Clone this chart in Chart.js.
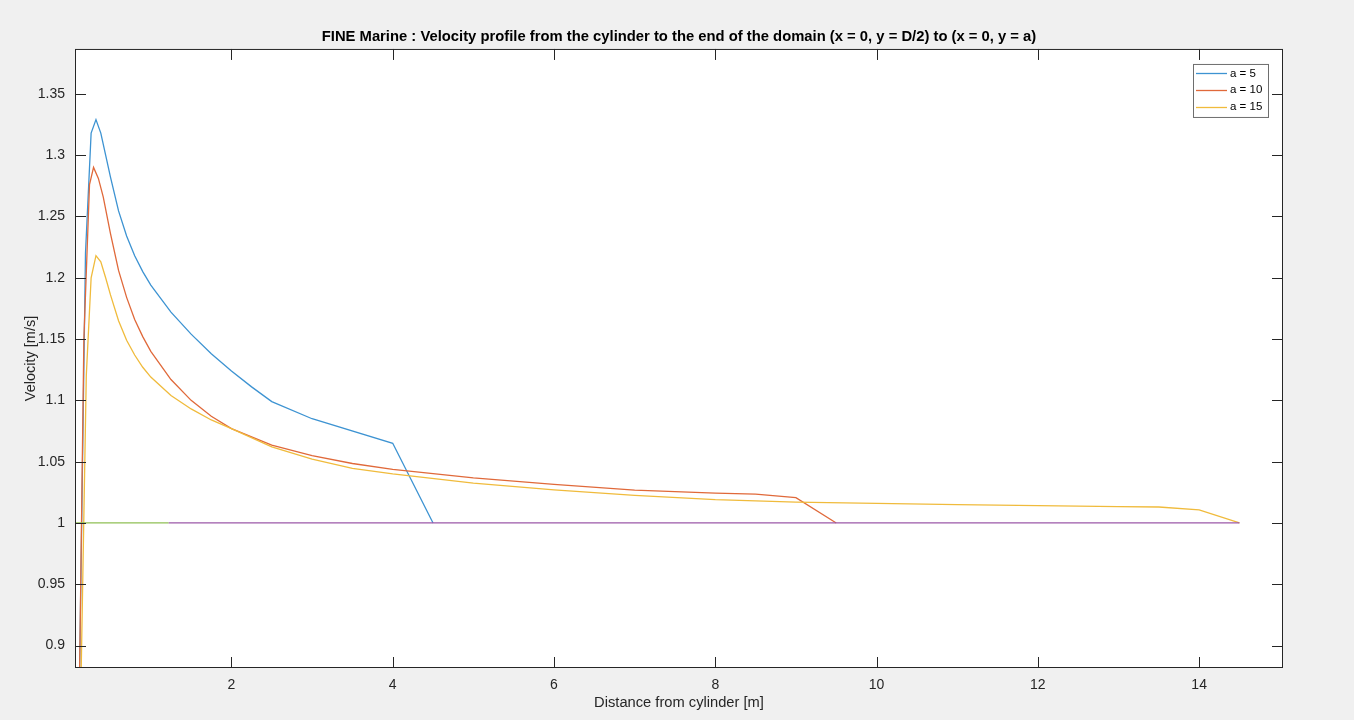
<!DOCTYPE html>
<html>
<head>
<meta charset="utf-8">
<title>FINE Marine velocity profile</title>
<script src="https://cdn.jsdelivr.net/npm/chart.js@4.4.0/dist/chart.umd.min.js"></script>
<style>
  html, body { margin: 0; padding: 0; background: #f0f0f0; }
  #wrap { width: 1354px; height: 720px; }
</style>
</head>
<body>
<div id="wrap"><canvas id="chart" width="1354" height="720"></canvas></div>
<script>
// distance from cylinder [m] and velocity [m/s]
const a5_x = [0.1, 0.19, 0.26, 0.32, 0.38, 0.44, 0.5, 0.6, 0.7, 0.8, 0.9, 1.0, 1.25, 1.5, 1.75, 2.0, 2.25, 2.5, 3.0, 4.0, 4.5];
const a5_v = [0.80, 1.22, 1.318, 1.329, 1.318, 1.300, 1.282, 1.2545, 1.234, 1.218, 1.205, 1.194, 1.172, 1.154, 1.138, 1.124, 1.111, 1.099, 1.085, 1.065, 1.0];

const a10_x = [0.1, 0.17, 0.24, 0.29, 0.35, 0.41, 0.5, 0.6, 0.7, 0.8, 0.9, 1.0, 1.25, 1.5, 1.75, 2.0, 2.5, 3.0, 3.5, 4.0, 5.0, 6.0, 7.0, 8.0, 8.5, 9.0, 9.5];
const a10_v = [0.79, 1.15, 1.276, 1.290, 1.281, 1.266, 1.236, 1.206, 1.184, 1.166, 1.152, 1.140, 1.117, 1.100, 1.087, 1.077, 1.0635, 1.055, 1.0485, 1.0437, 1.0368, 1.0315, 1.0268, 1.0243, 1.0235, 1.0207, 1.0];

const a15_x = [0.1, 0.2, 0.26, 0.32, 0.38, 0.44, 0.5, 0.6, 0.7, 0.8, 0.9, 1.0, 1.25, 1.5, 1.75, 2.0, 2.5, 3.0, 3.5, 4.0, 5.0, 6.0, 7.0, 8.0, 9.0, 10.0, 11.0, 12.0, 13.0, 13.5, 14.0, 14.5];
const a15_v = [0.74, 1.12, 1.20, 1.218, 1.213, 1.200, 1.186, 1.165, 1.149, 1.137, 1.127, 1.119, 1.104, 1.093, 1.084, 1.077, 1.062, 1.052, 1.0446, 1.040, 1.0325, 1.027, 1.0225, 1.019, 1.017, 1.016, 1.015, 1.0141, 1.0133, 1.013, 1.0106, 1.0];

// free stream reference lines
const ref1_x = [1.22, 14.5];
const ref1_v = [1.0, 1.0];
const ref2_x = [0.05, 1.22];
const ref2_v = [1.0, 1.0];

const X_TICKS = [2, 4, 6, 8, 10, 12, 14];
const Y_TICKS = [0.9, 0.95, 1, 1.05, 1.1, 1.15, 1.2, 1.25, 1.3, 1.35];
const X_MIN = 0.06, X_MAX = 15.04;
const Y_MIN = 0.8817, Y_MAX = 1.3866;

const FONT = '"Liberation Sans", Arial, Helvetica, sans-serif';
const TEXT = '#262626';
const TICK = 11;

function pts(xs, vs) {
    return xs.map((x, i) => ({ x: x, y: vs[i] }));
}

function line(label, xs, vs, color, order) {
    return {
        label: label,
        data: pts(xs, vs),
        borderColor: color,
        backgroundColor: color,
        borderWidth: 1.3,
        pointRadius: 0,
        tension: 0,
        fill: false,
        order: order
    };
}

const frame = {
    id: 'frame',
    beforeDraw(chart) {
        const { ctx, chartArea: a } = chart;
        ctx.save();
        ctx.fillStyle = '#f0f0f0';
        ctx.fillRect(0, 0, chart.width, chart.height);
        ctx.fillStyle = '#ffffff';
        ctx.fillRect(a.left, a.top, a.right - a.left, a.bottom - a.top);
        ctx.restore();
    },
    afterDraw(chart) {
        const { ctx, chartArea: a, scales } = chart;
        ctx.save();
        ctx.strokeStyle = TEXT;
        ctx.lineWidth = 1;
        ctx.strokeRect(a.left + 0.5, a.top + 0.5, a.right - a.left - 1, a.bottom - a.top - 1);

        // inward ticks on all four sides
        ctx.beginPath();
        scales.x.ticks.forEach(t => {
            const px = Math.round(scales.x.getPixelForValue(t.value)) + 0.5;
            ctx.moveTo(px, a.bottom); ctx.lineTo(px, a.bottom - TICK);
            ctx.moveTo(px, a.top); ctx.lineTo(px, a.top + TICK);
        });
        scales.y.ticks.forEach(t => {
            const py = Math.round(scales.y.getPixelForValue(t.value)) + 0.5;
            ctx.moveTo(a.left, py); ctx.lineTo(a.left + TICK, py);
            ctx.moveTo(a.right, py); ctx.lineTo(a.right - TICK, py);
        });
        ctx.stroke();

        // legend box, top right inside the axes
        const shown = chart.data.datasets.filter(d => d.label);
        const bx = a.right - 90, by = a.top + 15, bw = 75, bh = 53;
        ctx.fillStyle = '#ffffff';
        ctx.fillRect(bx, by, bw, bh);
        ctx.strokeStyle = '#6e6e6e';
        ctx.strokeRect(bx + 0.5, by + 0.5, bw, bh);
        ctx.font = '11.5px ' + FONT;
        ctx.textBaseline = 'middle';
        ctx.textAlign = 'left';
        ctx.lineWidth = 1.3;
        shown.forEach((d, i) => {
            const ly = by + 9.5 + i * 16.7;
            ctx.strokeStyle = d.borderColor;
            ctx.beginPath();
            ctx.moveTo(bx + 3, Math.round(ly) + 0.5);
            ctx.lineTo(bx + 34, Math.round(ly) + 0.5);
            ctx.stroke();
            ctx.fillStyle = '#000';
            ctx.fillText(d.label, bx + 37, ly);
        });
        ctx.restore();
    }
};

const ctx = document.getElementById('chart').getContext('2d');
const chart = new Chart(ctx, {
    type: 'line',
    data: {
        datasets: [
            line('a = 5', a5_x, a5_v, '#3d93d2', 5),
            line('a = 10', a10_x, a10_v, '#e0693a', 4),
            line('a = 15', a15_x, a15_v, '#f0bb3c', 3),
            line('', ref1_x, ref1_v, '#9b59a8', 2),
            line('', ref2_x, ref2_v, '#8fbf55', 1)
        ]
    },
    options: {
        responsive: false,
        devicePixelRatio: 1,
        animation: false,
        layout: { padding: { left: 0, right: 71, top: 0, bottom: 0 } },
        plugins: {
            legend: { display: false },
            tooltip: { enabled: false },
            title: {
                display: true,
                fullSize: false,
                text: 'FINE Marine : Velocity profile from the cylinder to the end of the domain (x = 0, y = D/2) to (x = 0, y = a)',
                color: '#000',
                font: { family: FONT, size: 14.8, weight: 'bold', lineHeight: 1.2 },
                padding: { top: 28, bottom: 3.2 }
            }
        },
        scales: {
            x: {
                type: 'linear',
                min: X_MIN,
                max: X_MAX,
                afterFit: s => { s.height = 52; },
                afterBuildTicks: s => { s.ticks = X_TICKS.map(v => ({ value: v })); },
                grid: { display: false, drawTicks: false },
                border: { display: false },
                ticks: { color: TEXT, font: { family: FONT, size: 14 }, padding: 9, maxRotation: 0, autoSkip: false },
                title: { display: true, text: 'Distance from cylinder [m]', color: TEXT, font: { family: FONT, size: 14.7 }, padding: { top: 0, bottom: 8 } }
            },
            y: {
                type: 'linear',
                min: Y_MIN,
                max: Y_MAX,
                afterFit: s => { s.width = 75; },
                afterBuildTicks: s => { s.ticks = Y_TICKS.map(v => ({ value: v })); },
                grid: { display: false, drawTicks: false },
                border: { display: false },
                ticks: {
                    color: TEXT,
                    font: { family: FONT, size: 14 },
                    padding: 10,
                    autoSkip: false,
                    callback: v => String(Number(v.toFixed(2)))
                },
                title: { display: true, text: 'Velocity [m/s]', color: TEXT, font: { family: FONT, size: 14.5 }, padding: { top: 22, bottom: 0 } }
            }
        }
    },
    plugins: [frame]
});
</script>
</body>
</html>
